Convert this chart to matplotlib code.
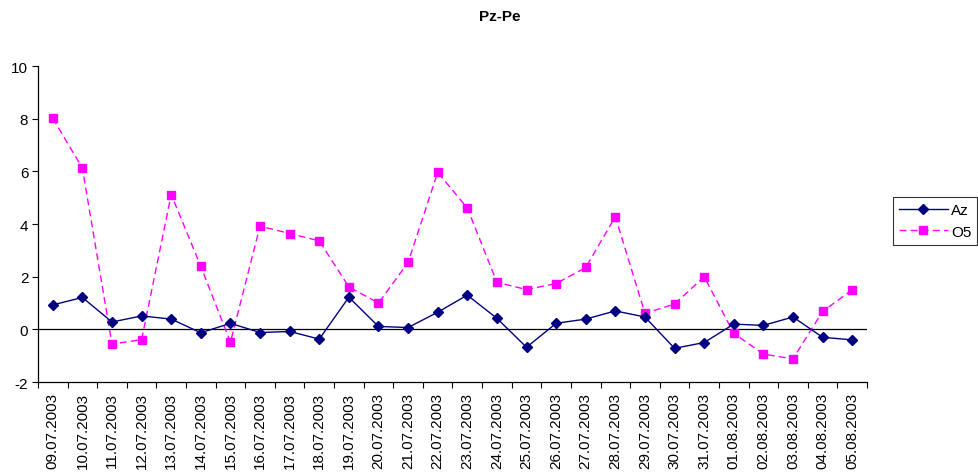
import matplotlib
matplotlib.use("Agg")
import matplotlib.pyplot as plt
import numpy as np

plt.rcParams['font.family'] = ['Liberation Sans', 'DejaVu Sans']
plt.rcParams['axes.unicode_minus'] = False

dates = ["09.07.2003", "10.07.2003", "11.07.2003", "12.07.2003", "13.07.2003",
         "14.07.2003", "15.07.2003", "16.07.2003", "17.07.2003", "18.07.2003",
         "19.07.2003", "20.07.2003", "21.07.2003", "22.07.2003", "23.07.2003",
         "24.07.2003", "25.07.2003", "26.07.2003", "27.07.2003", "28.07.2003",
         "29.07.2003", "30.07.2003", "31.07.2003", "01.08.2003", "02.08.2003",
         "03.08.2003", "04.08.2003", "05.08.2003"]
az = [0.93, 1.21, 0.28, 0.51, 0.39, -0.13, 0.23, -0.12, -0.08, -0.37,
      1.22, 0.11, 0.07, 0.65, 1.30, 0.42, -0.68, 0.23, 0.39, 0.70,
      0.47, -0.72, -0.50, 0.20, 0.15, 0.47, -0.30, -0.40]
o5 = [8.02, 6.12, -0.56, -0.39, 5.12, 2.39, -0.49, 3.92, 3.64, 3.36,
      1.61, 1.00, 2.54, 5.96, 4.61, 1.79, 1.51, 1.74, 2.35, 4.28,
      0.61, 0.96, 2.00, -0.15, -0.94, -1.12, 0.68, 1.50]

fig = plt.figure(figsize=(9.79, 4.77), dpi=100)
ax = fig.add_axes([0.0388, 0.197, 0.8468, 0.6625])
x = np.arange(len(dates))

ax.axhline(0, color='black', lw=0.9, zorder=1)
ax.plot(x, az, color='#000080', lw=1, marker='D', ms=5, label='Az', zorder=3)
ax.plot(x, o5, color='#FF00FF', lw=1, ls=(0, (5, 3)), marker='s', ms=5.5,
        label='O5', zorder=2)

ax.set_xlim(-0.5, len(dates) - 0.5)
ax.set_ylim(-2, 10)
ax.set_yticks(range(-2, 11, 2))
ax.tick_params(axis='y', direction='out', length=4, labelsize=11, pad=3)

# tick marks between categories, labels under each category
ax.set_xticks(np.arange(-0.5, len(dates), 1))
ax.set_xticklabels([])
ax.tick_params(axis='x', which='major', direction='out', length=4)
ax.set_xticks(x, minor=True)
ax.set_xticklabels(dates, minor=True, rotation=90, fontsize=11)
ax.tick_params(axis='x', which='minor', length=0, pad=7)

for side in ('top', 'right'):
    ax.spines[side].set_visible(False)
for side in ('left', 'bottom'):
    ax.spines[side].set_color('black')
    ax.spines[side].set_linewidth(0.9)

fig.suptitle('Pz-Pe', x=0.51, y=0.98, fontsize=11, fontweight='bold')

leg = fig.legend(loc='upper left', bbox_to_anchor=(0.912, 0.585), fontsize=11,
                 frameon=True, fancybox=False, edgecolor='black',
                 handlelength=3.2, handletextpad=0.2, borderpad=0.4,
                 labelspacing=0.5, borderaxespad=0)
leg.get_frame().set_linewidth(0.8)

fig.savefig('out.png', dpi=100)
